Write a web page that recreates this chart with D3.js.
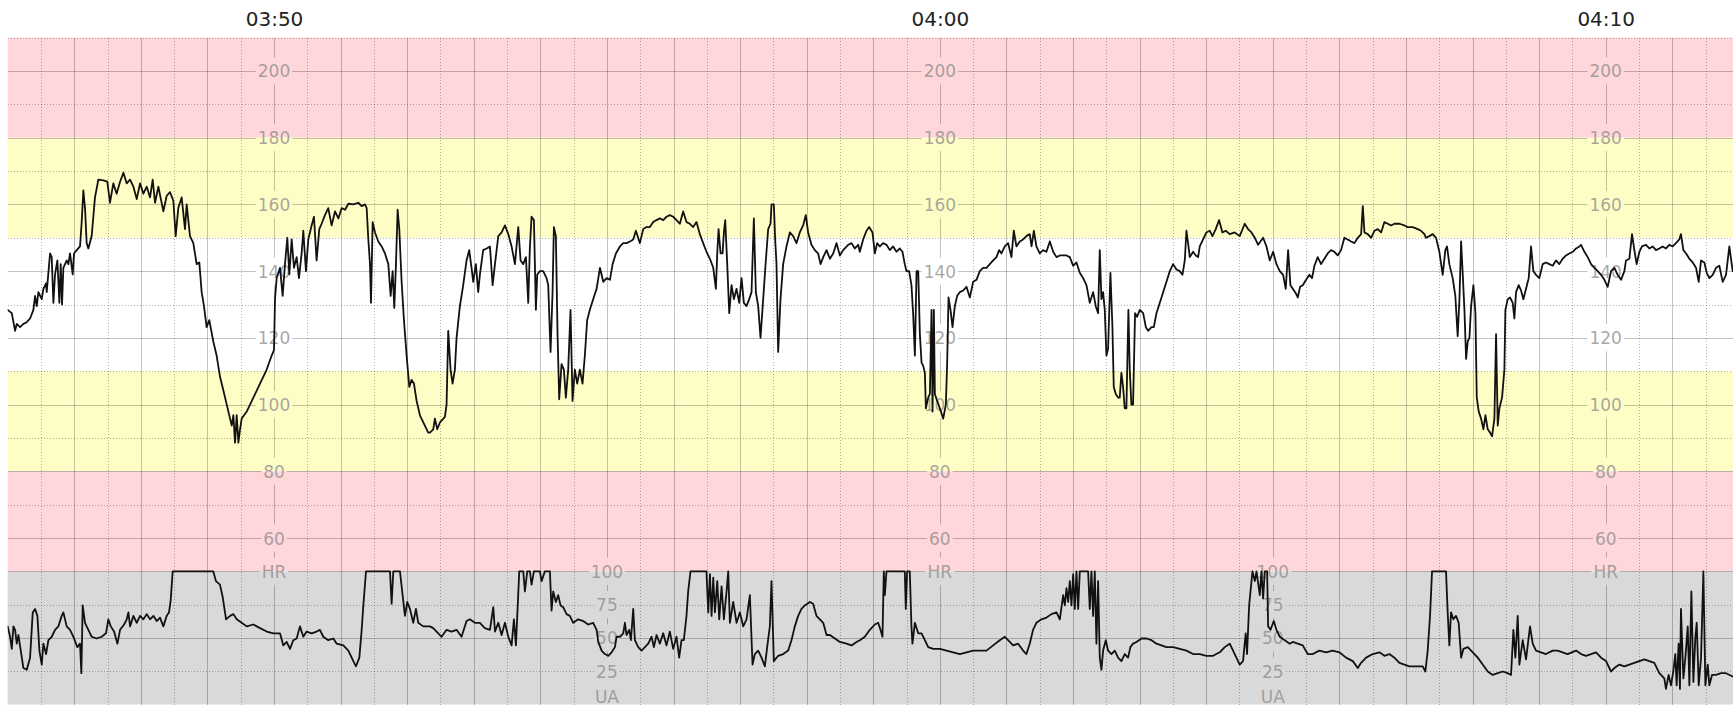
<!DOCTYPE html>
<html><head><meta charset="utf-8">
<script src="https://cdn.jsdelivr.net/npm/d3@7/dist/d3.min.js"></script>
<style>html,body{margin:0;padding:0;background:#fff;overflow:hidden}</style>
</head><body><svg id="c" width="1733" height="709"></svg>
<script>
// ---- data ----
const startClock = [3, 46, 0];           // trace start 03:46:00, times below in seconds from it
const endSeconds = 1554.7;
const hrBands = [[210, 180, "alarm"], [180, 150, "warn"], [150, 110, "normal"], [110, 80, "warn"], [80, 50, "alarm"]];
const hrTickValues = [200, 180, 160, 140, 120, 100, 80, 60];
const uaTickValues = [100, 75, 50, 25];
const hrAxisName = "HR";
const uaAxisName = "UA";

const hrTrace = [[0,128.4],[3.7,127.4],[6.7,122.1],[8.2,124.2],[11.2,123.2],[14.2,124.2],[17.2,124.7],[20.2,125.8],[23.2,128.4],[24.7,132.6],[26.2,129.5],[27.7,133.7],[30.7,131.6],[32.2,134.7],[34.6,136.3],[35.2,133.7],[38.2,145.3],[39.7,144.2],[41.2,130.5],[42.7,139],[44.8,143.2],[46.6,130.5],[47.8,142.1],[49,130],[50.2,141],[53.2,143.2],[54.7,142.1],[56.2,145.3],[58.6,139],[59.8,145.3],[62.2,146.3],[65.2,147.4],[66.7,154.7],[68.2,164.2],[69.7,158.9],[71.2,148.4],[72.7,146.8],[75.7,150.5],[78.7,162.1],[81.7,167.4],[86.2,167.2],[89.8,166.8],[92.2,160.5],[95.2,166.3],[98.2,163.2],[101.3,166.8],[104.3,169.5],[107.3,166.3],[110.3,167.4],[113.3,165.3],[116.3,161.6],[119.3,166.3],[122.3,163.2],[125.3,165.3],[128.3,162.1],[130.7,167.4],[132.8,160.5],[135.8,165.3],[140.3,157.9],[143.3,162.6],[146.3,163.7],[149.3,161.1],[151.4,150.5],[153.8,159],[156.8,162.1],[159.8,152.6],[161.3,160],[164.3,150.5],[167.3,148.4],[170.3,142.1],[172.7,142.6],[174.8,133.7],[176.9,129.5],[179.3,123.2],[181.7,125.3],[185.3,118.9],[188.3,114.7],[191.3,108.4],[194.4,104.2],[197.4,100],[200.4,95.8],[201.9,93.7],[203.4,96.8],[204.9,88.6],[206.4,96.8],[207.9,88.6],[209.4,92.6],[210.9,95.8],[215.4,97.9],[221.4,102.1],[227.4,106.3],[233.4,110.5],[237.9,114.7],[240,116.3],[240.9,131.6],[242.4,137.9],[245.4,141],[247.8,132.6],[249.9,142.1],[252,150],[253.8,139],[255.9,149.5],[258,141],[260.4,144.2],[262.5,137.9],[264.9,145.3],[266.4,152.1],[268.8,140],[270.9,149.5],[273.9,153.7],[276,156.3],[278.4,143.2],[280.8,152.6],[282.9,154.2],[285.9,156.8],[288.9,158.9],[291.9,153.7],[295,157.9],[298,155.8],[301,158.9],[304,158.4],[307,160.2],[311.5,160],[316,160.5],[319,159.5],[322,160],[323.5,158.9],[325,149.5],[326.5,142.1],[327.4,130.5],[328.9,154.7],[331,151.6],[334,148.9],[337,147.4],[340,145.3],[343,142.1],[345.1,132.6],[346.9,140],[348.4,129],[349.9,142.1],[351.4,158.4],[352.9,152.6],[355,136.8],[357.1,125.3],[359.5,114.7],[361.9,105.3],[364,107.4],[366.1,106.3],[368.5,101.1],[371.5,96.8],[374.5,94.7],[379,91.6],
[380.5,91.6],[383.5,92.6],[385,95.8],[387.1,92.6],[389.6,94.7],[394,96.3],[395.5,100],[397,122.1],[399.1,110.5],[400.9,106.3],[403,110.5],[404.5,120],[407.5,129.5],[410.5,135.8],[413.5,143.2],[415.9,146.3],[418,141],[419.5,136.8],[421.9,142.1],[424,133.7],[425.5,138.9],[428.5,146.3],[431.6,146.8],[434.6,147.4],[437,135.8],[439.1,142.1],[442.1,150.5],[445.1,151.6],[448.1,153.7],[451.1,151.1],[454.1,147.4],[457.1,142.1],[460.1,153.2],[462.2,143.2],[464.6,142.1],[467,144.2],[469.1,130.5],[470.6,147.4],[472.1,156.3],[474.2,155.3],[476,128.4],[477.2,139],[479.6,140],[482.6,140],[485.6,137.9],[487.1,135.8],[489.2,115.8],[491,133.7],[492.2,153.2],[494,150.5],[495.5,121.1],[497,101.6],[499.1,112.1],[501.2,110.5],[503,102.1],[505.1,110.5],[507.2,128.4],[509,101.1],[511.1,110.5],[513.2,106.3],[515.6,110.5],[518,106.3],[520.1,114.7],[522.2,125.3],[524.6,128.4],[527.6,131.6],[530.7,134.7],[533.7,141],[536.7,136.8],[539.7,137.9],[542.7,137.4],[545.1,142.1],[548.1,145.3],[551.7,147.4],[554.7,148.4],[557.7,148.4],[560.7,148.9],[563.7,149.5],[566.1,152.1],[569.7,148.4],[572.7,152.6],[575.7,153.2],[578.7,153.2],[581.7,154.7],[584.7,155.3],[587.7,155.8],[590.7,155.3],[593.7,156.3],[596.7,156.8],[599.7,156.3],[602.7,155.3],[605.7,154.2],[608.7,157.9],[611.7,154.7],[614.7,154.2],[617.7,153.2],[620.7,154.7],[623.7,151.1],[626.7,148.4],[629.7,145.8],[632.8,143.7],[635.8,141],[638.2,134.7],[639.4,145.3],[640.6,152.6],[642.4,145.3],[644.2,145.3],[645.4,151.6],[646.6,155.3],[648.4,142.1],[650.2,127.4],[652.3,135.8],[654.4,131.6],[656.8,134.7],[659.2,130.5],[661.3,137.9],[663.4,130.5],[665.8,129.5],[668.2,131.6],[670.3,133.7],[672.4,155.8],[674.2,133.7],[676.3,129.5],[678.4,120],[680.8,131.6],[683.2,143.2],[685.3,152.6],[687.4,154.2],[688.3,160],[690.4,160],[691.6,149.5],[692.8,142.1],[694.3,115.8],[696.4,131.6],[698.8,142.1],[701.8,147.4],[704.8,151.6],[707.8,150.5],[710.8,148.4],[713.8,151.6],[716.8,153.7],[719.2,156.8],[721.3,151.6],[724.3,147.9],[727.3,146.3],[730.3,145.3],[732.5,142.1],[734.9,144.2],[737.9,146.3],[740.9,143.7],[743.9,145.3],[746.9,148.4],[749.9,144.7],[752.9,146.3],[757.4,147.9],[760.4,148.4],[763.4,146.8],[766.4,147.9],
[767.9,145.8],[770.9,149.5],[773.9,152.1],[776.3,153.2],[779.3,151.6],[781.4,145.3],[783.5,148.4],[785.9,147.4],[788.9,148.4],[791.9,147.9],[794.9,146.3],[797.9,147.4],[800.9,145.8],[803.9,146.8],[806.3,145.8],[808.4,142.1],[809.9,140],[812.3,140],[814.4,135.8],[815.9,127.4],[817.5,114.7],[819,140],[820.5,140],[822,121.1],[823.5,112.6],[825,111.6],[826.5,109.5],[827.4,98.9],[829.5,102.1],[831,103.2],[832.5,128.4],[833.4,97.9],[834.6,128.4],[835.5,103.2],[837.6,101.1],[840,98.9],[843,95.8],[845.4,100],[846.6,112.6],[847.8,132.1],[849.6,128.4],[851.4,123.2],[853.5,129.5],[855.6,132.6],[858,133.7],[861,134.2],[864,135.3],[867,132.1],[870,136.8],[873,137.4],[876,140],[879,141],[882,141],[885,142.1],[888,143.2],[891,144.2],[893.4,146.3],[895.5,145.3],[898.5,147.4],[901.5,148.4],[904.5,144.2],[906.6,152.1],[909,147.4],[912,148.9],[915,149.5],[918,150.5],[921,151.1],[922.6,147.4],[924.7,152.1],[927,147.4],[930,145.3],[933,146.3],[936,145.8],[939.1,148.9],[942.1,145.8],[945.1,144.2],[948.1,144.7],[954.1,144.7],[957.1,144.2],[960.1,141.6],[963.1,142.6],[966.1,139.5],[969.1,137.9],[972.1,135.8],[975.1,130.5],[978.1,133.7],[980.5,129.5],[982.6,127.4],[984.1,146.3],[985.6,131.6],[987.1,133.7],[988.6,128.4],[990.1,114.7],[991.6,116.8],[993.7,139.5],[995.5,123.2],[996.7,105.3],[998.5,103.2],[1000.6,102.1],[1002.1,102.1],[1003.6,109.5],[1005.1,105.3],[1006.6,98.9],[1008.1,98.9],[1009.9,128.4],[1011.1,110.5],[1012.6,100],[1014.1,100],[1015.9,127.4],[1017.7,126.3],[1020.2,128.4],[1023.2,127.4],[1025.6,123.2],[1027.7,122.1],[1030.7,123.2],[1032.8,123.2],[1035.2,127.4],[1038.2,130.5],[1041.2,133.7],[1044.2,136.8],[1047.2,140],[1050.2,142.1],[1053.2,140.5],[1056.2,140],[1058.6,138.9],[1060.7,143.2],[1062.2,152.1],[1063.7,148.4],[1065.2,144.2],[1068.2,145.8],[1070.6,144.7],[1072.7,144.2],[1074.2,147.4],[1077.2,149.5],[1080.2,151.6],[1083.2,152.1],[1085.6,150.5],[1088.6,152.6],[1091.6,155.3],[1094.6,151.6],[1097.6,152.1],[1101.2,151.1],[1105.7,151.6],[1110.2,150.5],[1114.7,154.2],[1117.7,152.6],[1120.8,151.6],[1123.8,150],[1126.8,147.9],[1131.3,150],[1134.3,147.4],[1137.3,143.2],[1140.3,145.8],[1143.3,142.1],[1146.3,140],[1149.3,138.9],[1151.7,134.7],[1153.8,146.3],[1155.9,135.8],
[1158,134.7],[1161,133.2],[1162.5,132.1],[1164.6,135.3],[1167,135.8],[1170,137.4],[1173,138.9],[1175.4,137.9],[1177.5,141.6],[1180.5,144.2],[1183.5,142.1],[1186.5,143.7],[1189.5,145.3],[1192.5,146.3],[1195.5,145.8],[1198.5,144.7],[1201.5,146.3],[1204.5,150],[1207.5,149.5],[1210.6,148.9],[1213.6,148.4],[1216.6,150],[1219.6,151.1],[1221.1,159.5],[1222.6,151.6],[1225.6,151.1],[1228.6,150],[1231.6,152.1],[1234.6,152.6],[1237.6,151.6],[1240.6,154.7],[1243.6,154.2],[1246.6,153.7],[1249.6,154.2],[1254.1,154.2],[1258.6,153.7],[1261.6,153.2],[1266.1,153.2],[1270.6,152.6],[1273.6,152.1],[1276.6,151.1],[1278.1,150],[1281.1,150.5],[1284.1,151.1],[1287.1,150],[1290.1,145.8],[1293.1,138.9],[1295.5,146.3],[1297,147.4],[1299.1,142.1],[1302.1,137.9],[1304.5,132.6],[1306.6,120.5],[1308.2,131.6],[1309.7,148.9],[1311.2,138.9],[1312.7,128.4],[1314.2,113.7],[1315.7,119],[1317.2,120],[1318.7,129.5],[1320.8,135.8],[1322.6,127.4],[1323.8,102.1],[1325.6,97.9],[1327.7,95.8],[1329.8,92.6],[1331.6,96.8],[1333.7,92.6],[1335.8,91.6],[1337.6,90.5],[1339.7,95.8],[1341.2,121.1],[1342.7,93.7],[1344.2,98.9],[1346.6,102.1],[1348.7,110.5],[1349.6,128.4],[1351.7,131.6],[1353.8,132.1],[1356.2,130.5],[1357.7,125.8],[1359.2,133.7],[1361.6,135.8],[1363.7,134.2],[1365.8,131.6],[1368.2,134.7],[1370.6,137.9],[1372.7,147.4],[1374.8,140],[1377.2,138.9],[1380.2,137.9],[1383.2,142.1],[1386.2,142.6],[1389.2,142.1],[1392.2,141.6],[1395.2,143.2],[1398.2,142.1],[1401.2,143.7],[1404.2,144.7],[1407.2,145.3],[1410.3,145.8],[1413.3,146.8],[1416.3,147.4],[1417.8,147.9],[1420.8,145.8],[1423.8,144.2],[1426.8,142.1],[1429.8,141],[1432.8,140],[1435.8,138.9],[1438.8,137.4],[1441.8,135.3],[1444.8,140],[1447.8,141],[1450.8,138.9],[1453.8,137.4],[1456.8,140],[1458.3,143.2],[1461.3,143.7],[1463.7,151.1],[1465.8,146.3],[1467.9,142.1],[1470.3,145.8],[1472.7,147.4],[1476.3,147.9],[1479.3,146.8],[1482.3,147.4],[1485.3,146.3],[1488.3,146.8],[1491.3,147.4],[1494.3,146.8],[1497.3,147.9],[1500.3,147.4],[1503.3,148.4],[1506.3,149.5],[1507.8,151.1],[1510,146.3],[1512.4,145.3],[1515.4,143.7],[1518.4,142.6],[1521.4,141],[1523.8,136.8],[1525.9,143.2],[1528.9,142.6],[1531,139.5],[1533.4,137.9],[1536.4,138.9],[1539.4,141],[1542.4,141.6],[1545.4,136.8],[1548.4,138.9],[1551.4,147.4],[1554.4,140]];

const uaTrace = [[0,58.7],[2.2,50.9],[3.7,41.8],[5.2,58.7],[6.7,56.1],[8.2,45.7],[9.7,52.2],[11.8,40.5],[14.2,27.4],[17.2,26.1],[20.2,35.2],[22.6,69.2],[24.7,71.8],[26.8,66.6],[28.6,40.5],[30.7,30],[32.2,45.7],[34.6,37.9],[36.7,48.3],[39.7,50.9],[42.7,56.1],[45.7,58.7],[48.7,66.6],[50.2,69.2],[53.2,58.7],[56.2,56.1],[59.2,50.9],[62.8,43.1],[65.2,45.7],[66.4,23.5],[67.6,74.4],[69.7,61.4],[72.7,56.1],[75.7,50.9],[80.2,49.6],[84.7,50.9],[88.6,53.5],[90.7,64],[92.9,58.7],[95.9,54.8],[98.9,45.7],[101.3,56.1],[104.9,60.1],[107.3,64],[108.8,69.2],[110.3,58.7],[113.3,66.6],[116.3,61.4],[119.3,66.6],[122.3,64],[125.3,67.9],[128.3,64],[131.3,66.6],[134.3,62.7],[137.3,65.3],[140.3,58.7],[143.3,66.6],[145.4,69.2],[146.9,78.3],[148.7,100],[185.3,100],[187.7,92.7],[191.3,90.1],[193.7,81],[196.8,64],[200.4,66.6],[203.4,67.9],[206.4,64],[210.9,61.4],[215.4,58.7],[221.4,60.1],[227.4,57.4],[233.4,54.8],[239.4,53.5],[245.4,53.5],[248.4,44.4],[251.4,47],[254.4,41.8],[257.4,48.3],[260.4,49.6],[263.4,58.7],[266.4,50.9],[269.4,54.8],[273.9,53.5],[278.4,54.8],[281.4,56.1],[284.4,50.9],[288.9,48.3],[293.5,49.6],[296.5,45.7],[302.5,44.4],[307,40.5],[311.5,32.6],[313.9,28.7],[316.9,35.2],[319,56.1],[320.5,74.4],[322.9,100],[344.5,100],[346,75.7],[347.5,100],[353.5,100],[355.9,82.2],[358,66.6],[360.1,77],[362.5,71.8],[365.5,61.4],[367.9,71.8],[370,61.4],[374.5,58.7],[379,58.7],
[380.5,58.7],[383.5,57.4],[386.5,54.8],[391,50.9],[395.5,56.1],[400,54.8],[404.5,56.1],[409,50.9],[413.5,62.7],[416.5,64],[421,61.4],[425.5,61.4],[430,57.4],[434.6,56.1],[437.6,73.1],[439.1,54.8],[442.1,61.4],[445.1,52.2],[448.1,61.4],[451.1,50.9],[454.1,44.4],[456.2,64],[458,44.4],[459.2,66.6],[461,100],[464.6,100],[466.1,84.9],[468.2,100],[470.6,100],[472.1,90.1],[474.2,100],[479.6,100],[481.1,92.7],[484.1,100],[488.6,100],[490.1,70.5],[491.6,84.9],[494,77],[496.1,82.2],[498.2,74.4],[500.6,73.1],[503.6,67.9],[506.6,66.6],[509.6,61.4],[514.1,64],[518.6,62.7],[523.1,60.1],[527.6,61.4],[530.7,56.1],[532.2,47],[535.2,40.5],[538.2,37.9],[541.2,36.6],[544.2,39.2],[547.2,43.1],[548.7,50.9],[551.7,50.9],[554.7,53.5],[556.2,61.4],[557.7,52.2],[560.1,56.1],[561.6,48.3],[563.7,71.8],[565.2,48.3],[568.2,43.1],[571.2,40.5],[574.2,43.1],[577.2,45.7],[580.2,50.9],[582.3,43.1],[584.7,52.2],[587.7,45.7],[590.7,53.5],[593.7,44.4],[596.7,54.8],[599.7,41.8],[602.7,50.9],[605.1,35.2],[607.2,48.3],[609.3,48.3],[611.7,66.6],[613.2,84.9],[615.3,100],[629.7,100],[631.3,69.2],[632.8,97.9],[634.3,66.6],[635.8,95.3],[637.3,69.2],[639.4,92.7],[641.2,64],[643.3,88.8],[645.4,64],[647.8,84.9],[649.3,100],[650.8,61.4],[653.8,77],[656.8,61.4],[659.8,69.2],[662.8,58.7],[665.8,64],[668.8,82.2],[671.2,30],[673.3,37.9],[676.3,40.5],[679.3,35.2],[682.3,28.7],[684.4,43.1],[686.8,58.7],[688.3,92.7],[690.4,32.6],[694.3,36.6],[698.8,37.9],[703.3,40.5],[706.3,48.3],[709.3,58.7],[712.3,66.6],[715.3,71.8],[718.3,74.4],[722.8,77],[725.8,75.7],[728.8,66.6],[731.9,64],[734.9,61.4],[737.9,52.2],[740.9,52.2],[745.4,49.6],[749.9,47],[755.9,45.7],[760.4,44.4],[764.9,47],
[767.9,48.3],[772.4,50.9],[776.9,56.1],[781.4,60.1],[784.4,61.4],[786.5,56.1],[788.3,50.9],[789.5,100],[790.4,82.2],[791.9,100],[808.4,100],[809.3,71.8],[810.5,100],[812.9,100],[814.4,58.7],[815.3,45.7],[817.5,61.4],[820.5,53.5],[823.5,53.5],[826.5,48.3],[829.5,43.1],[834,41.8],[840,41.8],[846,40.5],[852,39.2],[858,37.9],[864,39.2],[870,40.5],[876,40.5],[882,40.5],[888,44.4],[894,48.3],[898.5,50.9],[901.5,48.3],[906,44.4],[910.5,45.7],[915,40.5],[918,37.9],[921,45.7],[924,56.1],[927,61.4],[931.6,64],[936.1,65.3],[940.6,67.9],[945.1,69.2],[948.1,64],[951.1,82.2],[952.6,74.4],[954.1,87.5],[955.6,77],[957.1,92.7],[958.6,74.4],[960.1,97.9],[961.6,71.8],[963.1,100],[964.6,71.8],[966.1,100],[973.6,100],[975.1,71.8],[976.6,100],[978.1,66.6],[979.6,100],[981.1,45.7],[982.6,92.7],[984.1,35.2],[985.6,26.1],[987.1,40.5],[989.5,48.3],[991.6,40.5],[994.6,37.9],[997.6,40.5],[1000.6,35.2],[1003.6,32.6],[1006.6,37.9],[1009.6,35.2],[1011.7,43.1],[1014.1,45.7],[1017.2,47],[1021.7,49.6],[1026.2,49.6],[1030.7,48.3],[1035.2,45.7],[1039.7,44.4],[1044.2,43.1],[1050.2,43.1],[1056.2,41.8],[1062.2,40.5],[1068.2,37.9],[1074.2,37.9],[1080.2,36.6],[1086.2,36.6],[1092.2,39.2],[1096.7,43.1],[1101.2,45.7],[1104.2,40.5],[1107.2,35.2],[1110.2,30],[1113.2,32.6],[1115.6,53.5],[1116.8,37.9],[1118.7,74.4],[1119.9,84.9],[1121.7,100],[1123.8,92.7],[1125.3,100],[1128.3,82.2],[1129.8,100],[1131.3,79.6],[1132.8,100],[1134.9,100],[1135.8,58.7],[1137.9,56.1],[1140.9,62.7],[1143.3,56.1],[1146.3,50.9],[1150.8,48.3],[1155.3,45.7],
[1158,47],[1162.5,45.7],[1167,44.4],[1171.5,37.9],[1176,37.9],[1182,40.5],[1188,39.2],[1194,40.5],[1200,39.2],[1206,35.2],[1212.1,32.6],[1216.6,27.4],[1219.6,31.3],[1224.1,35.2],[1230.1,37.9],[1236.1,39.2],[1240.6,36.6],[1245.1,37.9],[1249.6,35.2],[1254.1,31.3],[1258.6,30],[1263.1,28.7],[1269.1,28.7],[1275.1,28.7],[1277.5,24.8],[1279.6,40.5],[1281.7,66.6],[1283.5,100],[1296.1,100],[1297.6,69.2],[1299.1,44.4],[1300.6,69.2],[1302.7,64],[1305.1,66.6],[1307.5,61.4],[1309.7,35.2],[1311.8,41.8],[1315.7,43.1],[1320.2,39.2],[1324.7,35.2],[1329.2,30],[1333.7,24.8],[1338.2,22.2],[1342.7,23.5],[1347.2,24.8],[1351.7,23.5],[1354.7,22.2],[1356.8,56.1],[1358.6,35.2],[1360.7,66.6],[1362.2,30],[1365.2,48.3],[1368.2,33.9],[1371.8,58.7],[1374.2,45.7],[1377.2,40.5],[1381.7,39.2],[1386.2,37.9],[1392.2,40.5],[1396.7,40.5],[1401.2,39.2],[1405.7,37.9],[1413.3,40.5],[1417.8,37.9],[1422.3,36.6],[1426.8,37.9],[1431.3,39.2],[1435.8,35.2],[1440.3,32.6],[1444.8,24.8],[1447.8,27.4],[1452.3,30],[1456.8,28.7],[1461.3,30],[1465.8,31.3],[1470.3,32.6],[1474.8,33.9],[1479.3,32.6],[1483.8,31.3],[1488.3,23.5],[1492.8,19.6],[1494.3,11.7],[1496.7,22.2],[1498.8,14.4],[1500.9,24.8],[1502.7,37.9],[1503.9,14.4],[1505.7,45.7],[1506.9,11.7],[1507.8,71.8],[1510,19.6],[1511.8,35.2],[1513.9,58.7],[1515.4,14.4],[1517.2,84.9],[1519,17],[1520.8,50.9],[1522,61.4],[1523.8,14.4],[1525.9,35.2],[1528,100],[1529.8,14.4],[1531.9,30],[1533.4,14.4],[1535.8,22.2],[1539.4,22.2],[1543.9,23.5],[1548.4,23.5],[1554.4,21]];

// ---- layout / style ----
const W = 1733, H = 709;
const L = 7.66, R = 1733;
const bandColor = {alarm: "#ffd6d9", warn: "#fffdc6", normal: "#ffffff"};
const uaBg = "#d9d9d9";

const base = new Date(2000, 0, 1, startClock[0], startClock[1], startClock[2]);
const T = s => new Date(base.getTime() + s * 1000);

const x = d3.scaleTime().domain([T(0), T(endSeconds)]).range([L, R]);
const yHR = d3.scaleLinear().domain([50, 210]).range([571.4, 37.6]);
const yUA = d3.scaleLinear().domain([0, 100]).range([704.5, 571.4]);

const svg = d3.select("#c");
const defs = svg.append("defs");
defs.append("clipPath").attr("id", "plotclip").append("rect")
  .attr("x", L).attr("y", yHR(210)).attr("width", R - L).attr("height", yUA(0) - yHR(210));

// backgrounds
svg.append("g").selectAll("rect").data(hrBands).join("rect")
  .attr("x", L).attr("width", R - L)
  .attr("y", d => yHR(d[0])).attr("height", d => yHR(d[1]) - yHR(d[0]))
  .attr("fill", d => bandColor[d[2]]);
svg.append("rect").attr("x", L).attr("width", R - L)
  .attr("y", yUA(100)).attr("height", yUA(0) - yUA(100)).attr("fill", uaBg);

// label positions
const hrLabelTimes = x.ticks(d3.timeMinute.every(10));
const uaLabelTimes = x.ticks(d3.timeMinute.every(5)).filter(d => d.getMinutes() % 10 === 5);
const labelItems = [];
hrLabelTimes.forEach(t => {
  hrTickValues.forEach(v => labelItems.push({t, y: yHR(v), text: String(v)}));
  labelItems.push({t, y: yHR(50), text: hrAxisName});
});
uaLabelTimes.forEach(t => {
  uaTickValues.forEach(v => labelItems.push({t, y: yUA(v), text: String(v)}));
  labelItems.push({t, y: yUA(0) - 8, text: uaAxisName});
});

// labels (draw first to measure)
const labelG = svg.append("g").attr("class", "labels");
const labels = labelG.selectAll("text").data(labelItems).join("text")
  .attr("x", d => x(d.t)).attr("y", d => d.y + 6.5)
  .attr("text-anchor", "middle")
  .attr("font-family", "DejaVu Sans, Verdana, sans-serif")
  .attr("font-size", 17)
  .attr("fill", "#8a8a8a").attr("fill-opacity", 0.75)
  .text(d => d.text);

// mask to break grid lines behind the labels
const mask = defs.append("mask").attr("id", "gridmask")
  .attr("maskUnits", "userSpaceOnUse").attr("x", 0).attr("y", 0).attr("width", W).attr("height", H);
mask.append("rect").attr("x", 0).attr("y", 0).attr("width", W).attr("height", H).attr("fill", "white");
labels.each(function(d) {
  const w = this.getComputedTextLength();
  mask.append("rect").attr("x", x(d.t) - w / 2 - 2).attr("y", d.y - 13.5)
    .attr("width", w + 4).attr("height", 27).attr("fill", "black");
});

// grid
const grid = svg.insert("g", ".labels").attr("mask", "url(#gridmask)")
  .attr("stroke", "#000").attr("fill", "none").attr("shape-rendering", "crispEdges");
const vTicks = x.ticks(d3.timeSecond.every(30)).filter(d => d > T(0.5));
grid.selectAll("line.v").data(vTicks).join("line").attr("class", "v")
  .attr("x1", d => Math.round(x(d)) + 0.5).attr("x2", d => Math.round(x(d)) + 0.5)
  .attr("y1", yHR(210)).attr("y2", yUA(0))
  .attr("stroke-opacity", d => d.getSeconds() === 0 ? 0.24 : 0.3)
  .attr("stroke-dasharray", d => d.getSeconds() === 0 ? null : "1,2");
const hrLines = d3.range(50, 211, 10);
grid.selectAll("line.h").data(hrLines).join("line").attr("class", "h")
  .attr("x1", L).attr("x2", R)
  .attr("y1", d => Math.round(yHR(d)) + 0.5).attr("y2", d => Math.round(yHR(d)) + 0.5)
  .attr("stroke-opacity", d => d % 20 === 0 || d === 50 ? 0.24 : 0.3)
  .attr("stroke-dasharray", d => d % 20 === 0 || d === 50 ? null : "1,2");
grid.selectAll("line.u").data([75, 50, 25]).join("line").attr("class", "u")
  .attr("x1", L).attr("x2", R)
  .attr("y1", d => Math.round(yUA(d)) + 0.5).attr("y2", d => Math.round(yUA(d)) + 0.5)
  .attr("stroke-opacity", d => d === 50 ? 0.24 : 0.3)
  .attr("stroke-dasharray", d => d === 50 ? null : "1,2");

// traces
const traces = svg.append("g").attr("clip-path", "url(#plotclip)")
  .attr("fill", "none").attr("stroke", "#111").attr("stroke-width", 1.8)
  .attr("stroke-linejoin", "round").attr("stroke-linecap", "round");
traces.append("path").datum(hrTrace)
  .attr("d", d3.line().x(d => x(T(d[0]))).y(d => yHR(d[1])));
traces.append("path").datum(uaTrace)
  .attr("d", d3.line().x(d => x(T(d[0]))).y(d => yUA(d[1])));

// time axis on top
const axis = d3.axisTop(x).tickValues(hrLabelTimes).tickFormat(d3.timeFormat("%H:%M")).tickSize(0).tickPadding(0);
const ax = svg.append("g").attr("transform", "translate(0,26)").call(axis);
ax.select(".domain").remove();
ax.selectAll("text").attr("font-family", "DejaVu Sans, Verdana, sans-serif")
  .attr("font-size", 20).attr("fill", "#222").attr("dy", 0);
</script></body></html>
